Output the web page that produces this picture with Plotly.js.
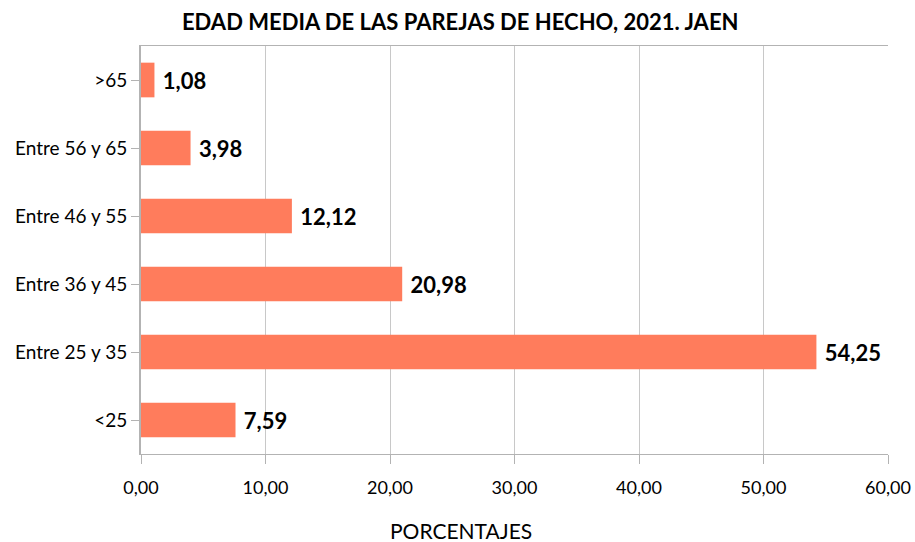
<!DOCTYPE html>
<html><head><meta charset="utf-8">
<script src="https://cdn.plot.ly/plotly-3.0.1.min.js"></script>
<style>body{margin:0}#c{width:915px;height:542px}</style>
</head><body><div id="c"></div>
<script>
const categories = ["<25","Entre 25 y 35","Entre 36 y 45","Entre 46 y 55","Entre 56 y 65",">65"];
const values = [7.59, 54.25, 20.98, 12.12, 3.98, 1.08];
const labels = ["7,59","54,25","20,98","12,12","3,98","1,08"];
const tickVals = [0,10,20,30,40,50,60];
const tickText = ["0,00","10,00","20,00","30,00","40,00","50,00","60,00"];

const trace = {
  type:'bar', orientation:'h', x: values, y: categories,
  marker:{color:'#FF7C5C'},
  text: labels, texttemplate:'\u00a0%{text}', textposition:'outside', cliponaxis:false,
  textfont:{family:'Lato, sans-serif', size:22, color:'#000', weight:'bold'},
  hoverinfo:'none'
};
const layout = {
  width:915, height:542,
  margin:{l:141, r:27, t:46, b:88},
  paper_bgcolor:'#fff', plot_bgcolor:'#fff',
  bargap:0.49,
  showlegend:false,
  font:{family:'Lato, sans-serif', color:'#000'},
  title:{text:'<b>EDAD MEDIA DE LAS PAREJAS DE HECHO, 2021. JAEN</b>', x:0.503, xanchor:'center', y:0.958, yanchor:'middle',
    font:{family:'Lato, sans-serif', size:22, color:'#000'}},
  xaxis:{range:[0,60], tickvals:tickVals, ticktext:tickText,
    showgrid:true, gridcolor:'#c8c8c8', gridwidth:1,
    showline:true, linecolor:'#b3b3b3', linewidth:1, mirror:true,
    ticks:'outside', ticklen:9, tickcolor:'#b3b3b3',
    ticklabelstandoff:8,
    tickfont:{size:18, color:'#000'}, zeroline:false},
  yaxis:{showline:true, linecolor:'#b3b3b3', linewidth:2,
    ticks:'outside', ticklen:8, tickcolor:'#b3b3b3',
    tickfont:{size:19, color:'#000'}, showgrid:false, automargin:false},
  annotations:[{text:'PORCENTAJES', xref:'paper', yref:'paper', x:(461-141)/747, y:-(530-454)/408,
    xanchor:'center', yanchor:'middle', showarrow:false, font:{size:21, color:'#000'}}]
};
Plotly.newPlot('c',[trace],layout,{displayModeBar:false, staticPlot:true});
</script></body></html>
